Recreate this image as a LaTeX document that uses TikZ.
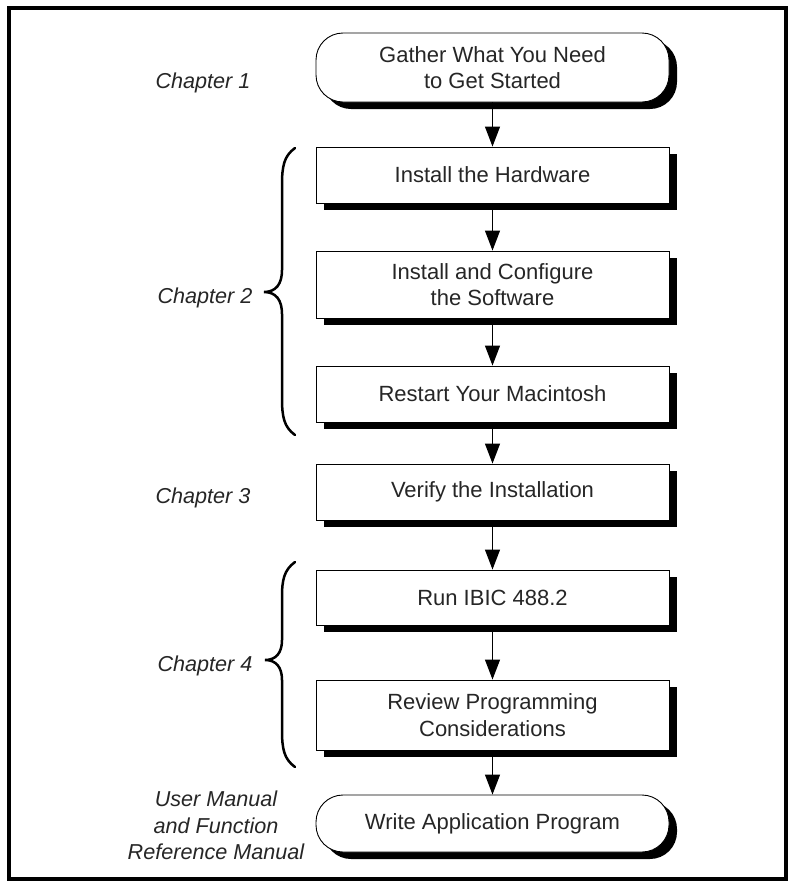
\documentclass[tikz,border=0pt]{standalone}
\usepackage{fontspec}
\setmainfont{Liberation Sans}
\usetikzlibrary{arrows.meta,shadows}
\begin{document}
\begin{tikzpicture}[x=1pt,y=-1pt,
  stepbox/.style={draw=black,line width=0.9pt,fill=white,minimum width=353pt,inner sep=0pt,align=center,
    text=black!85,font=\fontsize{22}{26.5}\selectfont,
    drop shadow={shadow xshift=8pt,shadow yshift=-7pt,fill=black,opacity=1}},
  termbox/.style={stepbox,rounded corners=27pt},
  chap/.style={font=\fontsize{21.6}{26.5}\selectfont\itshape,text=black!85,align=center,inner sep=0pt},
  arr/.style={line width=1.2pt,-{Triangle[width=15pt,length=20pt]}},
  brace/.style={line width=2.5pt,line cap=round}]
\useasboundingbox (0,0) rectangle (793,884);
\draw[line width=4pt] (9,8) rectangle (786,879);

\node[termbox,minimum height=69pt] (top) at (492.5,67.5) {Gather What You Need\\to Get Started};
\node[stepbox,minimum height=56pt] (b1) at (492.5,175) {Install the Hardware};
\node[stepbox,minimum height=67pt] (b2) at (492.5,284.5) {Install and Configure\\the Software};
\node[stepbox,minimum height=56pt] (b3) at (492.5,394) {Restart Your Macintosh};
\node[stepbox,minimum height=56pt] (b4) at (492.5,492) {Verify the Installation};
\node[stepbox,minimum height=55pt] (b5) at (492.5,597.5) {Run IBIC 488.2};
\node[stepbox,minimum height=70pt] (b6) at (492.5,715) {Review Programming\\Considerations};
\node[termbox,minimum height=57pt] (b7) at (492.5,823.5) {Write Application Program};

\draw[arr] (top.south) -- (b1.north);
\draw[arr] (b1.south) -- (b2.north);
\draw[arr] (b2.south) -- (b3.north);
\draw[arr] (b3.south) -- (b4.north);
\draw[arr] (b4.south) -- (b5.north);
\draw[arr] (b5.south) -- (b6.north);
\draw[arr] (b6.south) -- (b7.north);

\node[chap,anchor=base] (c1) at (203,88) {Chapter 1};
\node[chap,anchor=base] (c2) at (205,303) {Chapter 2};
\node[chap,anchor=base] (c3) at (203,503) {Chapter 3};
\node[chap,anchor=base] (c4) at (205,671) {Chapter 4};
\node[chap] (c5) at (216,825.5) {User Manual\\and Function\\Reference Manual};

\draw[brace] (295,148) .. controls (284,156) and (282,166) .. (282,185) -- (282,270)
  .. controls (282,284) and (276,292) .. (264,292)
  .. controls (276,292) and (282,300) .. (282,314) -- (282,398)
  .. controls (282,417) and (284,427) .. (295,435);
\draw[brace] (295,562) .. controls (284,570) and (282,580) .. (282,597) -- (282,640)
  .. controls (282,653) and (276,660) .. (265,660)
  .. controls (276,660) and (282,667) .. (282,680) -- (282,730)
  .. controls (282,749) and (284,759) .. (295,767);
\end{tikzpicture}
\end{document}
